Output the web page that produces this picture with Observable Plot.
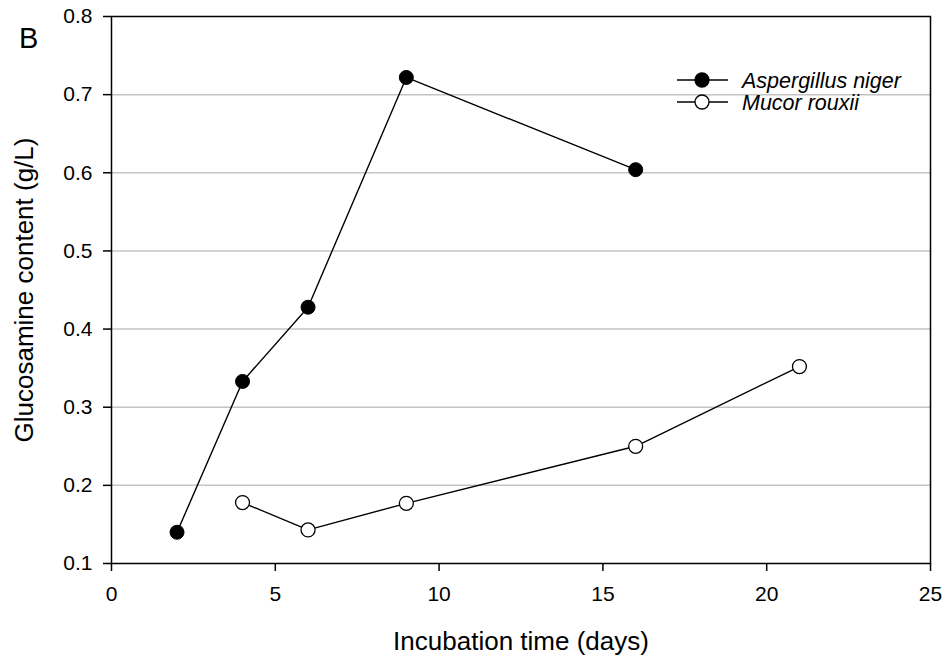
<!DOCTYPE html>
<html><head><meta charset="utf-8">
<script src="https://cdn.jsdelivr.net/npm/d3@7"></script>
<script src="https://cdn.jsdelivr.net/npm/@observablehq/plot@0.6"></script>
<style>
body{margin:0;background:#fff;font-family:"Liberation Sans",Arial,sans-serif;}
#wrap{position:relative;width:946px;height:658px;}
#overlay{position:absolute;left:0;top:0;pointer-events:none;}
</style></head><body>
<div id="wrap"><div id="chart"></div><svg id="overlay" width="946" height="658"></svg></div>
<script>
const seriesNames = ["Aspergillus niger", "Mucor rouxii"];
const nigerDays = [2, 4, 6, 9, 16];
const nigerValues = [0.140, 0.333, 0.428, 0.722, 0.604];
const mucorDays = [4, 6, 9, 16, 21];
const mucorValues = [0.178, 0.143, 0.177, 0.250, 0.352];
const xTicks = [0, 5, 10, 15, 20, 25];
const yTicks = [0.1, 0.2, 0.3, 0.4, 0.5, 0.6, 0.7, 0.8];
const gridTicks = [0.2, 0.3, 0.4, 0.5, 0.6, 0.7];
const panelLabel = "B";

const niger = nigerDays.map((d, i) => ({x: d, y: nigerValues[i]}));
const mucor = mucorDays.map((d, i) => ({x: d, y: mucorValues[i]}));
const font = "Liberation Sans, Arial, sans-serif";

const chart = Plot.plot({
  width: 946, height: 658,
  marginLeft: 111, marginTop: 16, marginRight: 16, marginBottom: 95,
  style: {fontSize: "21px", fontFamily: font, color: "#000", background: "#fff"},
  x: {domain: [0, 25]},
  y: {domain: [0.1, 0.8]},
  marks: [
    Plot.gridY(gridTicks, {stroke: "#c4c4c4", strokeOpacity: 1, strokeWidth: 1.5}),
    Plot.frame({stroke: "#000", strokeWidth: 1.5}),
    Plot.axisY(yTicks, {tickSize: 8, tickPadding: 11, tickFormat: d3.format(".1f"), strokeWidth: 1.5, fontSize: 21, label: null}),
    Plot.axisY({label: "Glucosamine content (g/L)", labelAnchor: "center", labelArrow: "none", labelOffset: 97, fontSize: 26, ticks: [], tickSize: 0}),
    Plot.axisX(xTicks, {tickSize: 8, tickPadding: 15, strokeWidth: 1.5, fontSize: 21, label: null}),
    Plot.axisX({label: "Incubation time (days)", labelAnchor: "center", labelArrow: "none", labelOffset: 86, fontSize: 26, ticks: [], tickSize: 0}),
    Plot.line(niger, {x: "x", y: "y", stroke: "#000", strokeWidth: 1.4}),
    Plot.line(mucor, {x: "x", y: "y", stroke: "#000", strokeWidth: 1.4}),
    Plot.dot(niger, {x: "x", y: "y", r: 7, fill: "#000", stroke: "#000", strokeWidth: 1}),
    Plot.dot(mucor, {x: "x", y: "y", r: 7, fill: "#fff", stroke: "#000", strokeWidth: 1.3})
  ]
});
document.getElementById("chart").appendChild(chart);

const ov = d3.select("#overlay");
ov.append("text").attr("x", 19).attr("y", 48).attr("font-family", font).attr("font-size", 29).text(panelLabel);
const fills = ["#000", "#fff"];
seriesNames.forEach((name, i) => {
  const g = ov.append("g").attr("transform", `translate(0,${80 + i * 22})`);
  g.append("line").attr("x1", 677).attr("x2", 728).attr("stroke", "#000").attr("stroke-width", 1.4);
  g.append("circle").attr("cx", 702).attr("r", 7).attr("fill", fills[i]).attr("stroke", "#000").attr("stroke-width", 1.3);
  g.append("text").attr("x", 742).attr("dy", "0.36em").attr("font-family", font).attr("font-size", 21.5)
    .attr("font-style", "italic").text(name);
});
</script>
</body></html>
